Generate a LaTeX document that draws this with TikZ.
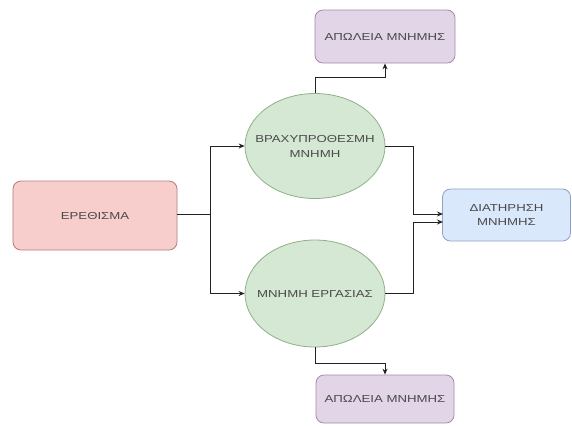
\documentclass[tikz,border=0pt]{standalone}
\usepackage{fontspec}
\setmainfont{Liberation Sans}[FakeStretch=1.3]
\usetikzlibrary{shapes.geometric,arrows.meta}
\definecolor{pinkf}{HTML}{F8CECC}\definecolor{pinkd}{HTML}{B07F7D}
\definecolor{greenf}{HTML}{D5E8D4}\definecolor{greend}{HTML}{8FAF86}
\definecolor{purpf}{HTML}{E1D5E7}\definecolor{purpd}{HTML}{A08CAB}
\definecolor{bluef}{HTML}{DAE8FC}\definecolor{blued}{HTML}{8CA2C6}
\definecolor{txt}{HTML}{4A4A4A}
\definecolor{ln}{HTML}{222222}
\tikzset{
  every node/.style={font=\fontsize{10.2}{15}\selectfont, text=txt, align=center, inner sep=0pt},
  rbox/.style={draw, rounded corners=8pt, line width=0.8pt},
  ell/.style={draw, ellipse, line width=0.8pt, fill=greenf, draw=greend, inner xsep=-14bp},
  conn/.style={draw=ln, line width=0.9pt},
  arr/.style={conn, -{Stealth[length=6pt,width=5pt]}}
}
\begin{document}
\begin{tikzpicture}[x=1bp,y=-1bp]
\useasboundingbox (0,0) rectangle (572,425);
\node[rbox, fill=pinkf, draw=pinkd, minimum width=164bp, minimum height=69bp] (stim) at (95,215.5) {ΕΡΕΘΙΣΜΑ};
\node[ell, minimum width=140bp, minimum height=105bp] (stm) at (315,146) {ΒΡΑΧΥΠΡΟΘΕΣΜΗ\\ΜΝΗΜΗ};
\node[ell, minimum width=140bp, minimum height=107bp] (wm) at (315,293.5) {ΜΝΗΜΗ ΕΡΓΑΣΙΑΣ};
\node[rbox, fill=purpf, draw=purpd, minimum width=140bp, minimum height=53bp] (loss1) at (385,36.5) {ΑΠΩΛΕΙΑ ΜΝΗΜΗΣ};
\node[rbox, fill=purpf, draw=purpd, minimum width=138bp, minimum height=48bp] (loss2) at (385,399) {ΑΠΩΛΕΙΑ ΜΝΗΜΗΣ};
\node[rbox, fill=bluef, draw=blued, minimum width=128bp, minimum height=52bp, font=\fontsize{10.2}{14}\selectfont] (keep) at (506.5,215) {ΔΙΑΤΗΡΗΣΗ\\ΜΝΗΜΗΣ};
\coordinate (j) at (210,214.5);
\coordinate (k1) at (443,214);
\coordinate (k2) at (443,222);
\coordinate (t1) at (0,77);
\coordinate (t2) at (0,363);
\coordinate (v) at (413,0);
\draw[conn] (stim.east |- j) -- (j);
\draw[arr] (j) |- (stm.west);
\draw[arr] (j) |- (wm.west);
\draw[arr] (stm.north) -- (stm.north |- t1) -| (loss1.south);
\draw[arr] (wm.south) -- (wm.south |- t2) -| (loss2.north);
\draw[arr] (stm.east) -- (stm.east -| v) |- (k1);
\draw[arr] (wm.east) -- (wm.east -| v) |- (k2);
\end{tikzpicture}
\end{document}
